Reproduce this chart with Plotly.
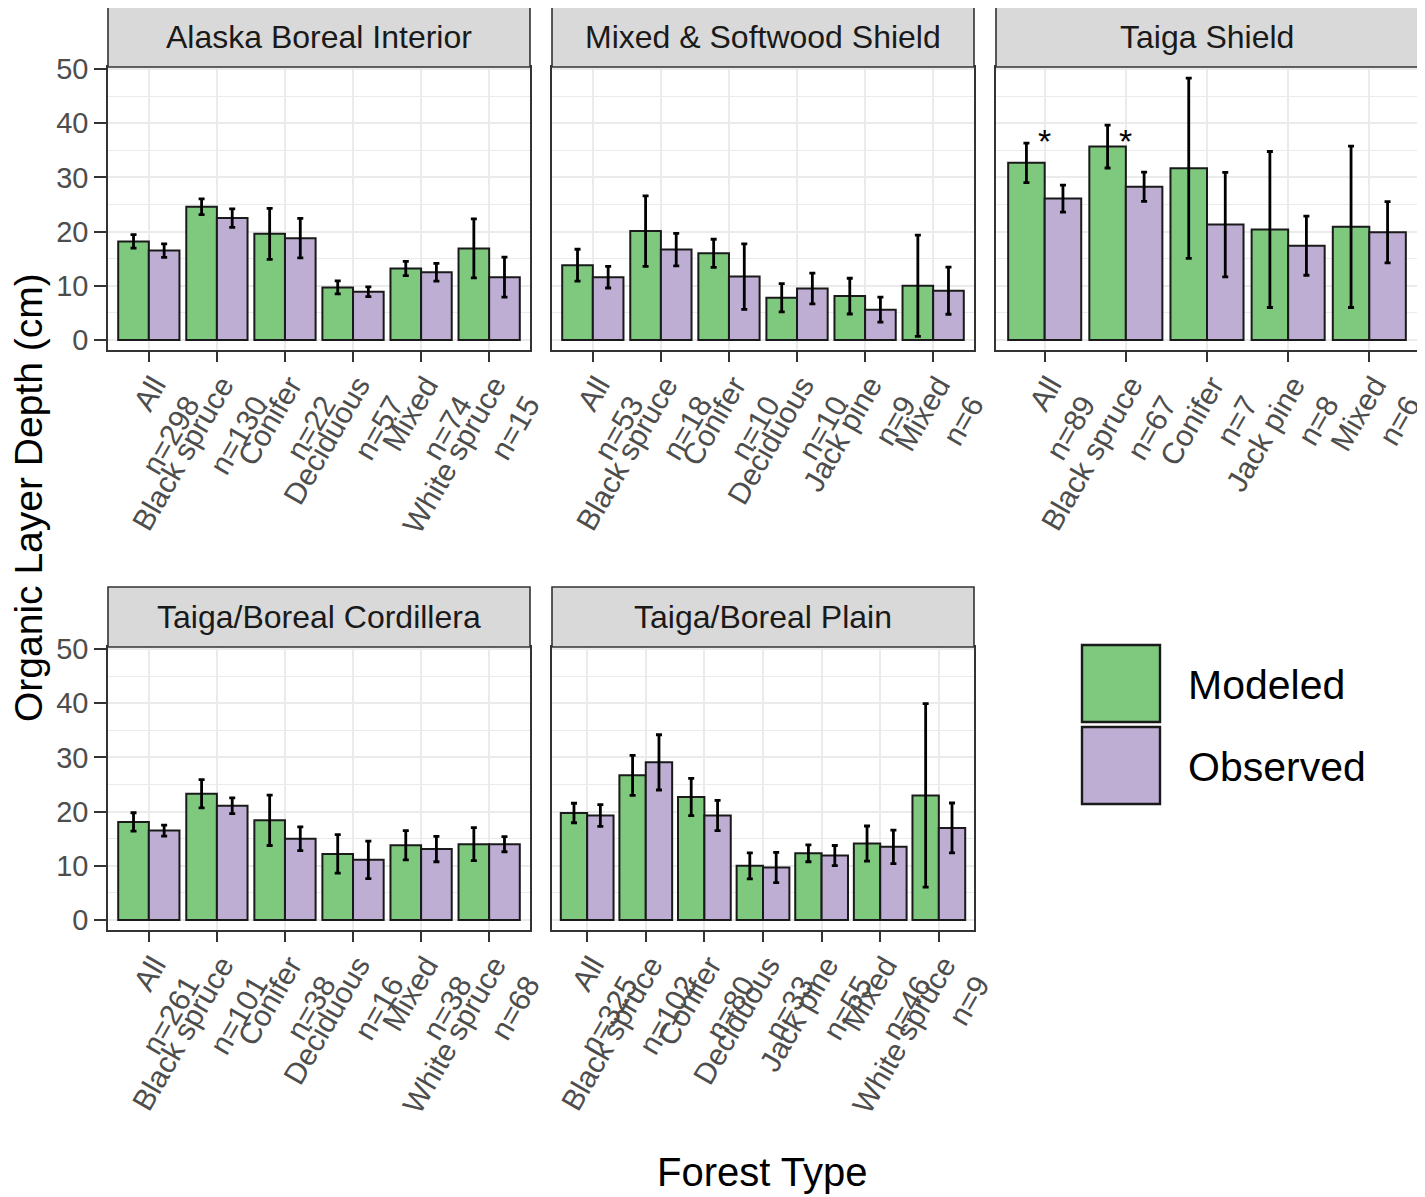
"""Organic layer depth by forest type and ecozone, modeled vs observed."""

import plotly.graph_objects as go

GREEN = "#7FC97F"
PURPLE = "#BEAED4"
INK = "#333333"
GRID = "#EBEBEB"
FONT = "Liberation Sans, Arial, sans-serif"
PAGE_W, PAGE_H = 1425, 1197
BODY = 8  # default page margin around the plot div
W, H = PAGE_W - BODY, PAGE_H - BODY

# --- data -----------------------------------------------------------------
abi_types = ["All", "Black spruce", "Conifer", "Deciduous", "Mixed", "White spruce"]
abi_n = [298, 130, 22, 57, 74, 15]
abi_mod = [18.2, 24.6, 19.6, 9.7, 13.2, 16.9]
abi_mod_ci = [1.25, 1.45, 4.7, 1.2, 1.3, 5.45]
abi_obs = [16.5, 22.5, 18.8, 8.9, 12.5, 11.6]
abi_obs_ci = [1.25, 1.7, 3.65, 0.9, 1.65, 3.7]

mss_types = ["All", "Black spruce", "Conifer", "Deciduous", "Jack pine", "Mixed"]
mss_n = [53, 18, 10, 10, 9, 6]
mss_mod = [13.8, 20.1, 16.0, 7.8, 8.1, 10.0]
mss_mod_ci = [2.95, 6.5, 2.6, 2.6, 3.3, 9.35]
mss_obs = [11.6, 16.7, 11.7, 9.5, 5.6, 9.1]
mss_obs_ci = [2.0, 3.0, 6.05, 2.85, 2.3, 4.35]

ts_types = ["All", "Black spruce", "Conifer", "Jack pine", "Mixed"]
ts_n = [89, 67, 7, 8, 6]
ts_mod = [32.7, 35.7, 31.7, 20.4, 20.9]
ts_mod_ci = [3.65, 3.95, 16.65, 14.4, 14.9]
ts_obs = [26.1, 28.3, 21.3, 17.4, 19.9]
ts_obs_ci = [2.5, 2.7, 9.65, 5.45, 5.65]
ts_signif = ["All", "Black spruce"]

tbc_types = ["All", "Black spruce", "Conifer", "Deciduous", "Mixed", "White spruce"]
tbc_n = [261, 101, 38, 16, 38, 68]
tbc_mod = [18.1, 23.3, 18.4, 12.2, 13.8, 14.0]
tbc_mod_ci = [1.7, 2.6, 4.65, 3.55, 2.7, 3.05]
tbc_obs = [16.5, 21.1, 15.0, 11.1, 13.1, 14.0]
tbc_obs_ci = [1.0, 1.45, 2.2, 3.45, 2.35, 1.4]

tbp_types = ["All", "Black spruce", "Conifer", "Deciduous", "Jack pine", "Mixed", "White spruce"]
tbp_n = [325, 102, 80, 33, 55, 46, 9]
tbp_mod = [19.75, 26.7, 22.7, 10.0, 12.3, 14.1, 23.0]
tbp_mod_ci = [1.8, 3.7, 3.45, 2.4, 1.55, 3.25, 16.95]
tbp_obs = [19.3, 29.1, 19.3, 9.7, 11.9, 13.5, 17.0]
tbp_obs_ci = [2.0, 5.1, 2.8, 2.8, 1.85, 3.1, 4.6]

panels = [
    ("Alaska Boreal Interior", abi_types, abi_n, abi_mod, abi_mod_ci, abi_obs, abi_obs_ci),
    ("Mixed & Softwood Shield", mss_types, mss_n, mss_mod, mss_mod_ci, mss_obs, mss_obs_ci),
    ("Taiga Shield", ts_types, ts_n, ts_mod, ts_mod_ci, ts_obs, ts_obs_ci),
    ("Taiga/Boreal Cordillera", tbc_types, tbc_n, tbc_mod, tbc_mod_ci, tbc_obs, tbc_obs_ci),
    ("Taiga/Boreal Plain", tbp_types, tbp_n, tbp_mod, tbp_mod_ci, tbp_obs, tbp_obs_ci),
]

# panel boxes in page pixels: (left, right), (top, bottom)
cols = [(108, 530), (552, 974), (996, 1418)]
rows = [(67, 350), (647, 930)]
STRIP = 60
Y_RANGE = [-1.85, 50.4]


def px_x(v):
    return (v - BODY) / W


def px_y(v):
    return 1 - (v - BODY) / H


def label(t, n):
    return f"{t}<br>n={n}"


fig = go.Figure()
shapes, annotations = [], []

for i, (title, types, ns, mod, mod_ci, obs, obs_ci) in enumerate(panels):
    k = i + 1
    (x0, x1), (y0, y1) = cols[i % 3], rows[i // 3]
    cats = [label(t, n) for t, n in zip(types, ns)]
    xa, ya = f"x{k}", f"y{k}"
    for name, vals, ci, color in (("Modeled", mod, mod_ci, GREEN), ("Observed", obs, obs_ci, PURPLE)):
        fig.add_trace(go.Bar(
            x=cats, y=vals, name=name, xaxis=xa, yaxis=ya, showlegend=False,
            marker={"color": color, "line": {"color": "#1A1A1A", "width": 2}},
            error_y={"type": "data", "array": ci, "color": "black", "thickness": 2.8, "width": 3},
        ))

    axis_common = {"showline": True, "mirror": True, "linecolor": INK, "linewidth": 1.6,
                   "zeroline": False, "ticks": "outside", "tickcolor": INK, "tickwidth": 2.4,
                   "gridcolor": GRID, "gridwidth": 2.2, "automargin": False}
    fig.layout[f"xaxis{k}"] = dict(
        axis_common, domain=[px_x(x0), px_x(x1)], anchor=ya, type="category",
        range=[-0.6, len(cats) - 0.4], ticklen=10, tickangle=-60,
        ticklabelstandoff=-6, ticklabelshift=5,
        tickfont={"size": 30, "color": "#4D4D4D", "family": FONT},
    )
    fig.layout[f"yaxis{k}"] = dict(
        axis_common, domain=[px_y(y1), px_y(y0)], anchor=xa, range=Y_RANGE,
        tickvals=[0, 10, 20, 30, 40, 50], ticklen=12,
        showticklabels=(i % 3 == 0), tickfont={"size": 29, "color": "#4D4D4D", "family": FONT},
        minor={"tickvals": [5, 15, 25, 35, 45], "showgrid": True, "gridcolor": GRID,
               "gridwidth": 1.1, "ticks": ""},
    )
    if i % 3 != 0:
        fig.layout[f"yaxis{k}"].ticks = ""

    # facet strip
    shapes.append({"type": "rect", "xref": "paper", "yref": "paper",
                   "x0": px_x(x0), "x1": px_x(x1), "y0": px_y(y0), "y1": px_y(y0 - STRIP),
                   "fillcolor": "#D9D9D9", "line": {"color": INK, "width": 1.6}})
    annotations.append({"text": title, "xref": "paper", "yref": "paper", "showarrow": False,
                        "x": px_x((x0 + x1) / 2), "y": px_y(y0 - STRIP / 2),
                        "xanchor": "center", "yanchor": "middle",
                        "font": {"size": 32, "color": "#1A1A1A", "family": FONT}})

# significance markers, Taiga Shield
for t in ts_signif:
    annotations.append({"text": "*", "xref": "x3", "yref": "y3", "showarrow": False,
                        "x": label(t, ts_n[ts_types.index(t)]), "y": 36.8,
                        "xanchor": "center", "yanchor": "middle",
                        "font": {"size": 34, "color": "black", "family": FONT}})

# legend drawn by hand so the keys can be large
for j, (name, color) in enumerate((("Modeled", GREEN), ("Observed", PURPLE))):
    top = 645 + j * 82
    shapes.append({"type": "rect", "xref": "paper", "yref": "paper",
                   "x0": px_x(1082), "x1": px_x(1160), "y0": px_y(top + 77), "y1": px_y(top),
                   "fillcolor": color, "line": {"color": "#1A1A1A", "width": 2.4}})
    annotations.append({"text": name, "xref": "paper", "yref": "paper", "showarrow": False,
                        "x": px_x(1186), "y": px_y(top + 40), "xanchor": "left", "yanchor": "middle",
                        "font": {"size": 41, "color": "black", "family": FONT}})

# axis titles
annotations.append({"text": "Organic Layer Depth (cm)", "xref": "paper", "yref": "paper",
                    "showarrow": False, "textangle": -90, "x": px_x(29), "y": px_y(498),
                    "xanchor": "center", "yanchor": "middle",
                    "font": {"size": 39, "color": "black", "family": FONT}})
annotations.append({"text": "Forest Type", "xref": "paper", "yref": "paper", "showarrow": False,
                    "x": px_x(762), "y": px_y(1172), "xanchor": "center", "yanchor": "middle",
                    "font": {"size": 40, "color": "black", "family": FONT}})

fig.update_layout(
    template="none",
    width=W, height=H,
    margin={"l": 0, "r": 0, "t": 0, "b": 0, "autoexpand": False},
    paper_bgcolor="white", plot_bgcolor="white",
    barmode="group", bargap=0.1, bargroupgap=0,
    shapes=shapes, annotations=annotations,
    font={"family": FONT},
)

fig.write_html("out.html")
